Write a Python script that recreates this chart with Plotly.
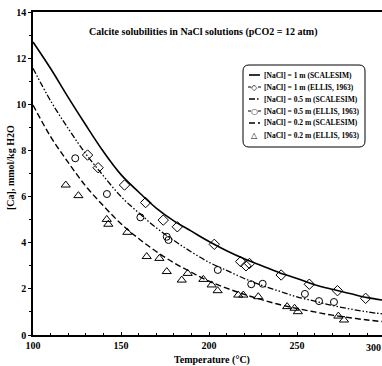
import plotly.graph_objects as go

# ---------------- data ----------------
temp_grid = [100, 110, 120, 130, 140, 150, 160, 170, 180, 190, 200,
             210, 220, 230, 240, 250, 260, 270, 280, 290, 300]
scalesim_1m = [12.7, 11.55, 10.3, 9.1, 7.95, 6.95, 6.2, 5.5, 4.95, 4.5, 4.05,
               3.65, 3.3, 3.0, 2.7, 2.45, 2.18, 1.98, 1.8, 1.62, 1.5]
scalesim_05m = [11.56, 10.15, 8.95, 7.85, 6.9, 6.0, 5.3, 4.65, 4.1, 3.6, 3.15,
                2.8, 2.45, 2.15, 1.9, 1.65, 1.47, 1.28, 1.13, 1.0, 0.9]
scalesim_02m = [9.97, 8.6, 7.48, 6.45, 5.6, 4.82, 4.18, 3.62, 3.13, 2.72, 2.33,
                2.03, 1.76, 1.53, 1.32, 1.15, 1.0, 0.86, 0.75, 0.65, 0.57]

ellis_1m_t = [131, 137, 152, 164, 174, 182, 203, 218, 221, 223, 241, 257, 273, 289]
ellis_1m_v = [7.8, 7.25, 6.5, 5.74, 4.98, 4.69, 3.93, 3.18, 3.0, 3.1, 2.6, 2.2, 1.92, 1.59]

ellis_05m_t = [124, 142, 161, 176, 177, 205, 224, 230.5, 254.5, 262.5, 271]
ellis_05m_v = [7.66, 6.11, 5.10, 4.26, 4.12, 2.82, 2.20, 2.22, 1.78, 1.47, 1.43]

ellis_02m_t = [118.6, 125.8, 141.9, 142.8, 153.6, 164.6, 171.8, 176.0, 184.5, 187.9,
               196.8, 201.5, 204.9, 216.6, 219.5, 228.0, 244.4, 248.6, 250.5, 273.5, 276.7]
ellis_02m_v = [6.50, 6.04, 5.01, 4.80, 4.45, 3.40, 3.32, 2.75, 2.38, 2.67,
               2.41, 2.17, 1.92, 1.73, 1.73, 1.66, 1.23, 1.16, 1.01, 0.82, 0.65]

x_ticks = [100, 150, 200, 250, 300]
y_ticks = [0, 2, 4, 6, 8, 10, 12, 14]

legend_labels = [
    "[NaCl] = 1 m (SCALESIM)",
    "[NaCl] = 1 m (ELLIS, 1963)",
    "[NaCl] = 0.5 m (SCALESIM)",
    "[NaCl] = 0.5 m (ELLIS, 1963)",
    "[NaCl] = 0.2 m (SCALESIM)",
    "[NaCl] = 0.2 m (ELLIS, 1963)",
]

title_text = "Calcite solubilities in NaCl solutions (pCO2 = 12 atm)"
x_title = "Temperature (°C)"
y_title = "[Ca], mmol/kg H2O"

# ---------------- layout geometry ----------------
W, H = 382, 366
L, R, T, B = 33, 0, 12, 31
PW, PH = W - L - R, H - T - B
PX_PER_DEG = 1.76


def px(xp):
    return (xp - L) / PW


def py(yp):
    return (H - B - yp) / PH


SERIF = "Liberation Serif, Times New Roman, serif"
DASHDOT2 = "6px,2px,1.5px,2px,1.5px,2px"
DASHED = "6px,3px"

fig = go.Figure()
fig.add_trace(go.Scatter(x=temp_grid, y=scalesim_1m, mode="lines", line_shape="spline",
                         line=dict(color="black", width=1.6), name=legend_labels[0]))
fig.add_trace(go.Scatter(x=ellis_1m_t, y=ellis_1m_v, mode="markers",
                         marker=dict(symbol="diamond-open", size=8, color="black",
                                     line=dict(width=1)), name=legend_labels[1]))
fig.add_trace(go.Scatter(x=temp_grid, y=scalesim_05m, mode="lines", line_shape="spline",
                         line=dict(color="black", width=1.3, dash=DASHDOT2), name=legend_labels[2]))
fig.add_trace(go.Scatter(x=ellis_05m_t, y=ellis_05m_v, mode="markers",
                         marker=dict(symbol="circle-open", size=7, color="black",
                                     line=dict(width=1)), name=legend_labels[3]))
fig.add_trace(go.Scatter(x=temp_grid, y=scalesim_02m, mode="lines", line_shape="spline",
                         line=dict(color="black", width=1.4, dash=DASHED), name=legend_labels[4]))
fig.add_trace(go.Scatter(x=ellis_02m_t, y=ellis_02m_v, mode="markers",
                         marker=dict(symbol="triangle-up-open", size=8, color="black",
                                     line=dict(width=1)), name=legend_labels[5]))

tickfont = dict(family=SERIF, size=10, color="black", weight="bold")

fig.update_layout(
    width=W, height=H,
    margin=dict(l=L, r=R, t=T, b=B, pad=0, autoexpand=False),
    paper_bgcolor="white", plot_bgcolor="white",
    showlegend=False,
    xaxis=dict(range=[100, 100 + PW / PX_PER_DEG], tickvals=x_ticks, showgrid=False, zeroline=False,
               showline=True, linecolor="black", linewidth=2, mirror=True,
               ticks="inside", ticklen=3, tickcolor="black", tickfont=tickfont,
               automargin=False,
               minor=dict(dtick=10, ticks="inside", ticklen=2, tickcolor="black")),
    yaxis=dict(range=[0, 14], tickvals=y_ticks, showgrid=False, zeroline=False,
               showline=True, linecolor="black", linewidth=1.6, mirror=False,
               ticks="outside", ticklen=3, tickcolor="black", tickfont=tickfont,
               automargin=False,
               minor=dict(dtick=1, ticks="outside", ticklen=2, tickcolor="black")),
)


def note(x, y, text, size=10, family=SERIF, xanchor="center", yanchor="middle", **kw):
    return dict(x=x, y=y, xref="paper", yref="paper", text=text, showarrow=False,
                xanchor=xanchor, yanchor=yanchor, borderpad=0,
                font=dict(family=family, size=size, color="black"), **kw)


ann = []
# 300 tick label (its tick lies just past the right edge of the window)
ann.append(note(1.0, py(341), "<b>300</b>", xanchor="right", yanchor="top"))
# chart title
ann.append(note(px(203), py(32), "<b>" + title_text + "</b>"))
# axis titles
ann.append(note(px(212), py(360), "<b>" + x_title + "</b>"))
ann.append(note(px(10), py(168), "<b>" + y_title + "</b>", textangle=-90))

# ---------------- hand-drawn legend ----------------
shapes = []
bx0, bx1, by0, by1, r = 243, 365, 65, 147, 6
path = (f"M {px(bx0 + r)},{py(by0)} L {px(bx1 - r)},{py(by0)} "
        f"Q {px(bx1)},{py(by0)} {px(bx1)},{py(by0 + r)} "
        f"L {px(bx1)},{py(by1 - r)} Q {px(bx1)},{py(by1)} {px(bx1 - r)},{py(by1)} "
        f"L {px(bx0 + r)},{py(by1)} Q {px(bx0)},{py(by1)} {px(bx0)},{py(by1 - r)} "
        f"L {px(bx0)},{py(by0 + r)} Q {px(bx0)},{py(by0)} {px(bx0 + r)},{py(by0)} Z")
shapes.append(dict(type="path", xref="paper", yref="paper", path=path,
                   line=dict(color="black", width=1), fillcolor="white", layer="above"))

rows = [75, 87, 99, 111, 123, 135.5]
line_styles = [("solid", 1.6), None, (DASHDOT2, 1.3), None, (DASHED, 1.4), None]
glyphs = [None, "◇", None, "○", None, "△"]
for i, yrow in enumerate(rows):
    if line_styles[i] is not None:
        d, w = line_styles[i]
        shapes.append(dict(type="line", xref="paper", yref="paper", layer="above",
                           x0=px(249), x1=px(260), y0=py(yrow), y1=py(yrow),
                           line=dict(color="black", width=w, dash=d)))
    else:
        if i < 5:
            for a, b in ((248, 251), (258, 261)):
                shapes.append(dict(type="line", xref="paper", yref="paper", layer="above",
                                   x0=px(a), x1=px(b), y0=py(yrow), y1=py(yrow),
                                   line=dict(color="black", width=1)))
        ann.append(note(px(254.5), py(yrow), glyphs[i], size=8, family="DejaVu Sans"))
    ann.append(note(px(263), py(yrow), "<b>" + legend_labels[i] + "</b>", size=7.5,
                    xanchor="left"))

fig.update_layout(annotations=ann, shapes=shapes)
fig.write_html("out.html", config={"displayModeBar": False},
               post_script="document.body.style.margin='0';document.body.style.overflow='hidden';")
